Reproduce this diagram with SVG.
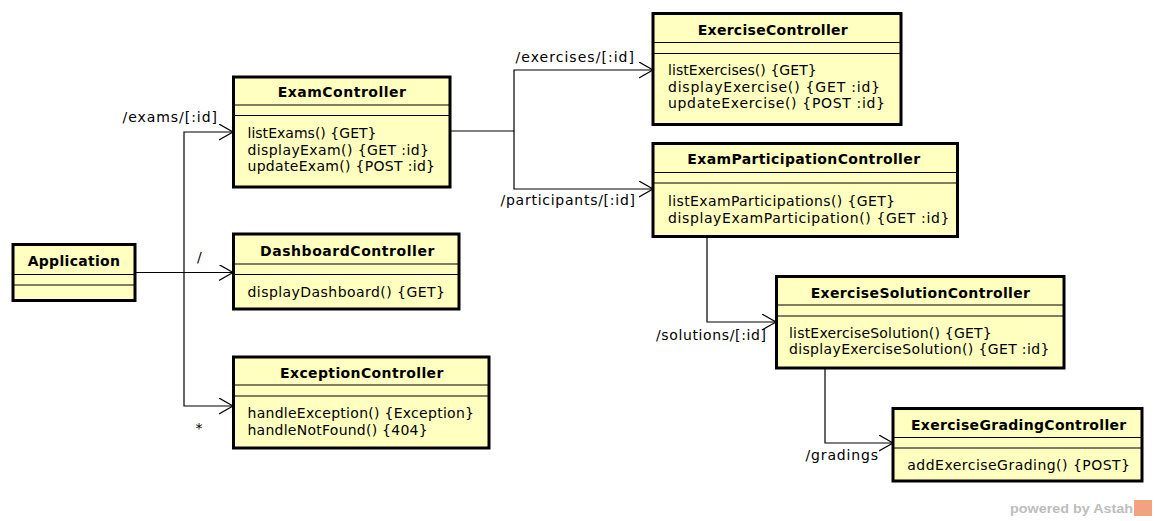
<svg xmlns="http://www.w3.org/2000/svg" width="1156" height="521" viewBox="0 0 1156 521">
<defs>
<style>
.box{fill:#ffffc0;stroke:#000;stroke-width:3}
.div{stroke:#000;stroke-width:1.2;fill:none}
.title{font-family:"DejaVu Sans",sans-serif;font-size:14px;font-weight:bold;text-anchor:middle;fill:#000}
.op{font-family:"DejaVu Sans",sans-serif;font-size:14px;fill:#000}
.lbl{font-family:"DejaVu Sans",sans-serif;font-size:14px;fill:#000}
.conn{fill:none;stroke:#000;stroke-width:1.2;marker-end:url(#arr)}
.wm{font-family:"Liberation Sans",Arial,sans-serif;font-size:13.5px;font-weight:bold;fill:#bdbdbd}
</style>
<marker id="arr" markerUnits="userSpaceOnUse" markerWidth="16" markerHeight="18" refX="14" refY="8" orient="auto" viewBox="0 0 16 18">
<path d="M0,0 L14,8 L0,16" fill="none" stroke="#000" stroke-width="1.2"/>
</marker>
</defs>
<rect width="1156" height="521" fill="#fff"/>

<g id="connectors">
<path class="conn" d="M135,272.5 H184 V132 H233"/>
<path class="conn" d="M135,272.5 H233"/>
<path class="conn" d="M184,272.5 V406 H233"/>
<path class="conn" d="M450,131 H514 V70 H653"/>
<path class="conn" d="M514,131 V189 H653"/>
<path class="conn" d="M707,237 V322 H776"/>
<path class="conn" d="M825,368 V443 H893"/>
<text class="lbl" x="122.5" y="121.5" textLength="94.5" lengthAdjust="spacing">/exams/[:id]</text>
<text class="lbl" x="197" y="262">/</text>
<text class="lbl" x="195.5" y="433">*</text>
<text class="lbl" x="515.5" y="61.5" textLength="118.5" lengthAdjust="spacing">/exercises/[:id]</text>
<text class="lbl" x="500.5" y="204.5" textLength="134.5" lengthAdjust="spacing">/participants/[:id]</text>
<text class="lbl" x="656" y="339.5" textLength="110" lengthAdjust="spacing">/solutions/[:id]</text>
<text class="lbl" x="805.5" y="460" textLength="72.5" lengthAdjust="spacing">/gradings</text>
</g>

<g id="Application">
<rect class="box" x="13" y="244.5" width="122" height="56"/>
<path class="div" d="M13,274.5 H135 M13,285 H135"/>
<text class="title" x="73.8" y="265.5" textLength="92.3" lengthAdjust="spacing">Application</text>
</g>

<g id="ExamController">
<rect class="box" x="233.5" y="77" width="216.5" height="110"/>
<path class="div" d="M233.5,105 H450 M233.5,115.5 H450"/>
<text class="title" x="341.8" y="97" textLength="128.3" lengthAdjust="spacing">ExamController</text>
<text class="op" x="247.5" y="138" textLength="129" lengthAdjust="spacing">listExams() {GET}</text>
<text class="op" x="247.5" y="154.5" textLength="181.5" lengthAdjust="spacing">displayExam() {GET :id}</text>
<text class="op" x="247.5" y="171" textLength="187.5" lengthAdjust="spacing">updateExam() {POST :id}</text>
</g>

<g id="DashboardController">
<rect class="box" x="233.5" y="234" width="225.5" height="75"/>
<path class="div" d="M233.5,264 H459 M233.5,274.5 H459"/>
<text class="title" x="347.2" y="255.5" textLength="174.3" lengthAdjust="spacing">DashboardController</text>
<text class="op" x="247.5" y="296.5" textLength="197.5" lengthAdjust="spacing">displayDashboard() {GET}</text>
</g>

<g id="ExceptionController">
<rect class="box" x="233.5" y="357" width="255.5" height="91"/>
<path class="div" d="M233.5,385 H489 M233.5,396 H489"/>
<text class="title" x="361.7" y="378" textLength="163.3" lengthAdjust="spacing">ExceptionController</text>
<text class="op" x="247.5" y="418" textLength="226.5" lengthAdjust="spacing">handleException() {Exception}</text>
<text class="op" x="247.5" y="434.5" textLength="180.2" lengthAdjust="spacing">handleNotFound() {404}</text>
</g>

<g id="ExerciseController">
<rect class="box" x="653" y="13.5" width="248" height="111"/>
<path class="div" d="M653,42.5 H901 M653,53.5 H901"/>
<text class="title" x="772.7" y="34.5" textLength="150" lengthAdjust="spacing">ExerciseController</text>
<text class="op" x="668" y="75" textLength="148.7" lengthAdjust="spacing">listExercises() {GET}</text>
<text class="op" x="668" y="91.5" textLength="212" lengthAdjust="spacing">displayExercise() {GET :id}</text>
<text class="op" x="668" y="108" textLength="217" lengthAdjust="spacing">updateExercise() {POST :id}</text>
</g>

<g id="ExamParticipationController">
<rect class="box" x="653" y="143.5" width="304.5" height="93"/>
<path class="div" d="M653,172.5 H957.5 M653,183 H957.5"/>
<text class="title" x="803.7" y="164" textLength="232.7" lengthAdjust="spacing">ExamParticipationController</text>
<text class="op" x="668" y="206" textLength="227" lengthAdjust="spacing">listExamParticipations() {GET}</text>
<text class="op" x="668" y="222.5" textLength="281.3" lengthAdjust="spacing">displayExamParticipation() {GET :id}</text>
</g>

<g id="ExerciseSolutionController">
<rect class="box" x="776.5" y="276.5" width="287.5" height="91.5"/>
<path class="div" d="M776.5,305 H1064 M776.5,316 H1064"/>
<text class="title" x="920.3" y="297.5" textLength="219.3" lengthAdjust="spacing">ExerciseSolutionController</text>
<text class="op" x="789" y="337.5" textLength="202.7" lengthAdjust="spacing">listExerciseSolution() {GET}</text>
<text class="op" x="789" y="354" textLength="260.3" lengthAdjust="spacing">displayExerciseSolution() {GET :id}</text>
</g>

<g id="ExerciseGradingController">
<rect class="box" x="893" y="408.5" width="249" height="72.5"/>
<path class="div" d="M893,437.5 H1142 M893,448 H1142"/>
<text class="title" x="1018.6" y="429.5" textLength="215.3" lengthAdjust="spacing">ExerciseGradingController</text>
<text class="op" x="907.3" y="469.5" textLength="222.7" lengthAdjust="spacing">addExerciseGrading() {POST}</text>
</g>

<g id="watermark">
<text class="wm" x="1010" y="513" textLength="123" lengthAdjust="spacingAndGlyphs">powered by Astah</text>
<rect x="1134" y="500" width="18" height="16" fill="#f2a27e"/>
</g>
</svg>
